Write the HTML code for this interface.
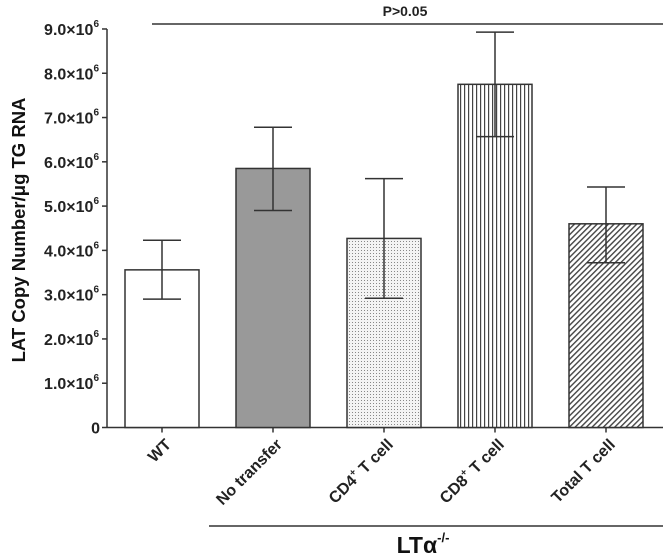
<!DOCTYPE html>
<html><head><meta charset="utf-8"><style>
body{margin:0;background:#fff;}
svg{display:block;font-family:"Liberation Sans",sans-serif;font-weight:bold;}
</style></head><body>
<svg id="chart" width="666" height="558">
<defs>
<pattern id="dots" width="3" height="3" patternUnits="userSpaceOnUse"><rect width="3" height="3" fill="#f4f4f4"/><rect x="1" y="1" width="1" height="1" fill="#888"/></pattern>
<pattern id="vlines" width="4" height="4" patternUnits="userSpaceOnUse"><rect width="4" height="4" fill="#fff"/><rect x="0" y="0" width="1.2" height="4" fill="#444"/></pattern>
<pattern id="diag" width="4" height="4" patternUnits="userSpaceOnUse" patternTransform="rotate(45)"><rect width="4" height="4" fill="#fff"/><rect x="0" y="0" width="1.4" height="4" fill="#444"/></pattern>
</defs>
<g id="axes"></g>
<g id="bars"></g>
<line x1="152" y1="24" x2="663" y2="24" stroke="#333" stroke-width="1.5"/>
<text x="405" y="16" font-size="14" text-anchor="middle" fill="#222">P&gt;0.05</text>
<line x1="209" y1="526" x2="663" y2="526" stroke="#333" stroke-width="1.5"/>
<text x="423" y="553" font-size="23" text-anchor="middle" fill="#111">LTα<tspan font-size="13" dy="-11">-/-</tspan></text>
<text transform="translate(25,230) rotate(-90)" font-size="18.5" text-anchor="middle" fill="#111">LAT Copy Number/μg TG RNA</text>
</svg>
<script>
const categories=["WT","No transfer","CD4+ T cell","CD8+ T cell","Total T cell"];
const means=[3.56,5.85,4.27,7.75,4.6];
const errHigh=[4.23,6.78,5.62,8.93,5.43];
const errLow=[2.9,4.9,2.92,6.57,3.72];
const yTicks=[0,1,2,3,4,5,6,7,8,9];
const fills=["#fff","#999","url(#dots)","url(#vlines)","url(#diag)"];
const NS="http://www.w3.org/2000/svg";
const y=v=>427.5-v*44.28;
const xc=i=>162+i*111;
const BW=74;
function mk(tag,attrs,parent){const e=document.createElementNS(NS,tag);for(const k in attrs)e.setAttribute(k,attrs[k]);parent.appendChild(e);return e;}
const ax=document.getElementById('axes'),bg=document.getElementById('bars');
let l=mk('line',{x1:107,y1:y(9),x2:107,y2:y(0),stroke:'#333','stroke-width':1.5},ax);


l=mk('line',{x1:107,y1:y(0),x2:663,y2:y(0),stroke:'#333','stroke-width':1.5},ax);


yTicks.forEach(t=>{
 const tk=mk('line',{x1:102,y1:y(t),x2:107,y2:y(t),stroke:'#333','stroke-width':1.5},ax);
 
 
 const tx=mk('text',{x:t===0?100:99,y:y(t)+6,'font-size':16,'text-anchor':'end',fill:'#222'},ax);
 
 
 if(t===0){tx.textContent='0';}
 else{tx.textContent=t.toFixed(1)+'×10';const s=mk('tspan',{'font-size':10,dy:-8},tx);s.textContent='6';}
});
categories.forEach((c,i)=>{
 const x=xc(i);
 const r=mk('rect',{x:x-BW/2,y:y(means[i]),width:BW,height:y(0)-y(means[i]),fill:fills[i],stroke:'#333','stroke-width':1.5},bg);
 
 
 const g=mk('g',{stroke:'#333','stroke-width':1.5},bg);
 
 
 mk('line',{x1:x,y1:y(errHigh[i]),x2:x,y2:y(errLow[i])},g);
 mk('line',{x1:x-19,y1:y(errHigh[i]),x2:x+19,y2:y(errHigh[i])},g);
 mk('line',{x1:x-19,y1:y(errLow[i]),x2:x+19,y2:y(errLow[i])},g);
 const tk=mk('line',{x1:x,y1:y(0),x2:x,y2:y(0)+5,stroke:'#333','stroke-width':1.5},ax);
 
 
 const tx=mk('text',{transform:`translate(${x+10},${y(0)+18}) rotate(-45)`,'font-size':16,'text-anchor':'end',fill:'#222'},ax);
 
 
 const m=c.match(/^(CD\d)\+(.*)$/);
 if(m){tx.appendChild(document.createTextNode(m[1]));const s=mk('tspan',{'font-size':10,dy:-7},tx);s.textContent='+';const s2=mk('tspan',{dy:7},tx);s2.textContent=m[2];}
 else tx.textContent=c;
});
</script>
</body></html>
